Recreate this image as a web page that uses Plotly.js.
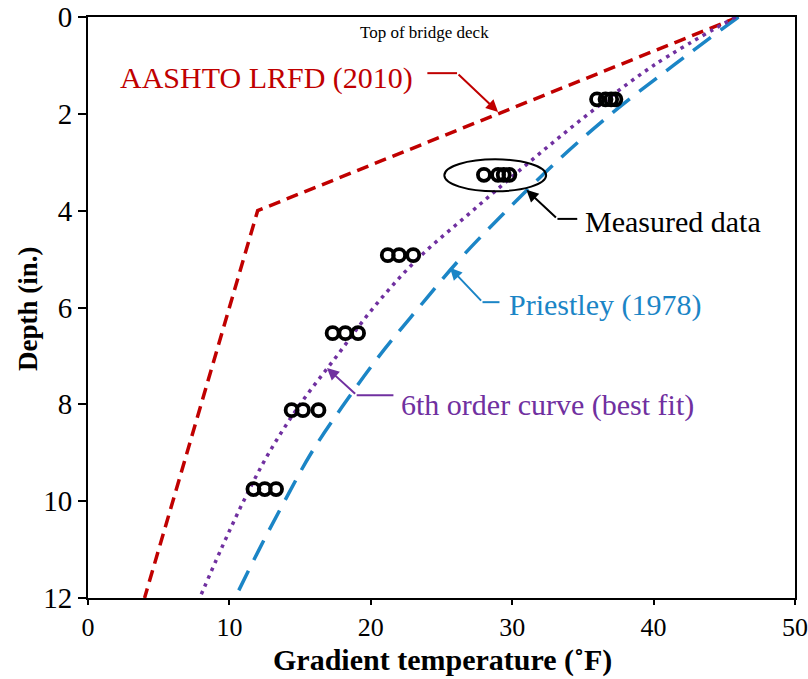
<!DOCTYPE html>
<html>
<head>
<meta charset="utf-8">
<script src="https://cdn.plot.ly/plotly-3.0.1.min.js"></script>
<style>
html,body{margin:0;padding:0;background:#fff;}
#chart{width:808px;height:679px;}
</style>
</head>
<body>
<div id="chart"></div>
<script>
// ---- Data ----
const aashtoDepth = [0, 4, 12];
const aashtoTemp = [46, 12, 4];

const priestleyDepth = [0, 1, 2, 3, 4, 5, 6, 7, 8, 9, 10, 11, 12];
const priestleyTemp = [46, 41.4, 37.0, 33.1, 29.6, 26.3, 23.4, 20.6, 18.1, 15.8, 13.9, 12.1, 10.4];

const fitDepth = [0, 1, 2, 3, 4, 5, 6, 7, 8, 9, 10, 11, 12];
const fitTemp = [45.8, 40.0, 35.4, 31.2, 27.2, 23.3, 20.2, 17.6, 15.0, 12.8, 11.0, 9.4, 7.9];

const measDepth = [1.7, 1.7, 1.7, 1.7, 3.26, 3.26, 3.26, 3.26, 4.92, 4.92, 4.92, 6.53, 6.53, 6.53, 8.12, 8.12, 8.12, 9.75, 9.75, 9.75];
const measTemp = [36.0, 36.6, 37.0, 37.3, 28.0, 29.0, 29.4, 29.8, 21.2, 22.0, 23.0, 17.3, 18.2, 19.1, 14.4, 15.2, 16.3, 11.7, 12.5, 13.3];

const xTicks = [0, 10, 20, 30, 40, 50];
const yTicks = [0, 2, 4, 6, 8, 10, 12];

const xTitle = 'Gradient temperature (˚F)';
const yTitle = 'Depth (in.)';

// ---- Styles ----
const RED = '#C00000', BLUE = '#1B85C6', PURPLE = '#7030A0';
const SERIF = 'Liberation Serif, Times New Roman, serif';

const traces = [
  {x: aashtoTemp, y: aashtoDepth, mode: 'lines', line: {color: RED, width: 3.5, dash: '12px,7px'}, hoverinfo: 'skip'},
  {x: priestleyTemp, y: priestleyDepth, mode: 'lines', line: {color: BLUE, width: 3.5, dash: '22px,12px', shape: 'spline'}, hoverinfo: 'skip'},
  {x: fitTemp, y: fitDepth, mode: 'lines', line: {color: PURPLE, width: 3.5, dash: '3.5px,5px', shape: 'spline'}, hoverinfo: 'skip'},
  {x: measTemp, y: measDepth, mode: 'markers', marker: {symbol: 'circle-open', size: 12, color: '#000', line: {width: 3.8, color: '#000'}}, hoverinfo: 'skip'}
];

function seg(x0, y0, x1, y1, color) {
  return {type: 'line', xref: 'x', yref: 'y', x0: x0, y0: y0, x1: x1, y1: y1, line: {color: color, width: 2}};
}
function arrow(hx, hy, tx, ty, color) {
  return {x: hx, y: hy, ax: tx, ay: ty, xref: 'x', yref: 'y', axref: 'x', ayref: 'y', text: '', showarrow: true,
          arrowhead: 2, arrowsize: 1.2, arrowwidth: 2, arrowcolor: color, standoff: 0, startstandoff: 0};
}
function label(x, y, text, color, size, anchor) {
  return {x: x, y: y, xref: 'x', yref: 'y', text: text, showarrow: false, xanchor: anchor || 'left', yanchor: 'middle',
          font: {family: SERIF, size: size, color: color}};
}

const layout = {
  width: 808, height: 679,
  margin: {l: 88, r: 13, t: 17, b: 81},
  paper_bgcolor: '#fff', plot_bgcolor: '#fff',
  showlegend: false,
  xaxis: {
    range: [0, 50], tickvals: xTicks, ticktext: xTicks.map(String),
    showgrid: false, zeroline: false, showline: true, linecolor: '#000', linewidth: 2, mirror: true,
    ticks: 'outside', ticklen: 5, tickwidth: 2, tickcolor: '#000', ticklabeloverflow: 'allow',
    tickfont: {family: SERIF, size: 26, color: '#000'}
  },
  yaxis: {
    range: [12, 0], tickvals: yTicks, ticktext: yTicks.map(String),
    showgrid: false, zeroline: false, showline: true, linecolor: '#000', linewidth: 2, mirror: true,
    ticks: 'outside', ticklen: 8, tickwidth: 2, tickcolor: '#000', ticklabeloverflow: 'allow',
    tickfont: {family: SERIF, size: 29, color: '#000'}
  },
  shapes: [
    {type: 'circle', xref: 'x', yref: 'y', x0: 25.2, x1: 32.4, y0: 2.94, y1: 3.6, line: {color: '#000', width: 2}},
    seg(24.0, 1.16, 26.1, 1.16, RED),
    seg(33.2, 4.17, 34.6, 4.17, '#000'),
    seg(27.9, 5.89, 29.1, 5.89, BLUE),
    seg(19.0, 7.81, 21.6, 7.81, PURPLE)
  ],
  annotations: [
    {x: 0.502, y: -0.1075, xref: 'paper', yref: 'paper', text: '<b>' + xTitle + '</b>', showarrow: false,
     xanchor: 'center', yanchor: 'middle', font: {family: SERIF, size: 30, color: '#000'}},
    {x: -0.085, y: 0.499, xref: 'paper', yref: 'paper', text: '<b>' + yTitle + '</b>', showarrow: false, textangle: -90,
     xanchor: 'center', yanchor: 'middle', font: {family: SERIF, size: 27, color: '#000'}},
    label(23.8, 0.31, 'Top of bridge deck', '#000', 17, 'center'),
    label(2.1, 1.26, 'AASHTO LRFD (2010)', RED, 30),
    arrow(29.0, 1.96, 26.1, 1.16, RED),
    label(35.0, 4.23, 'Measured data', '#000', 30),
    arrow(31.0, 3.57, 33.2, 4.17, '#000'),
    label(29.6, 5.95, 'Priestley (1978)', BLUE, 30),
    arrow(25.6, 5.18, 27.9, 5.89, BLUE),
    label(22.0, 8.01, '6th order curve (best fit)', PURPLE, 30),
    arrow(16.9, 7.25, 19.0, 7.81, PURPLE)
  ]
};

Plotly.newPlot('chart', traces, layout, {displayModeBar: false, staticPlot: true});
</script>
</body>
</html>
